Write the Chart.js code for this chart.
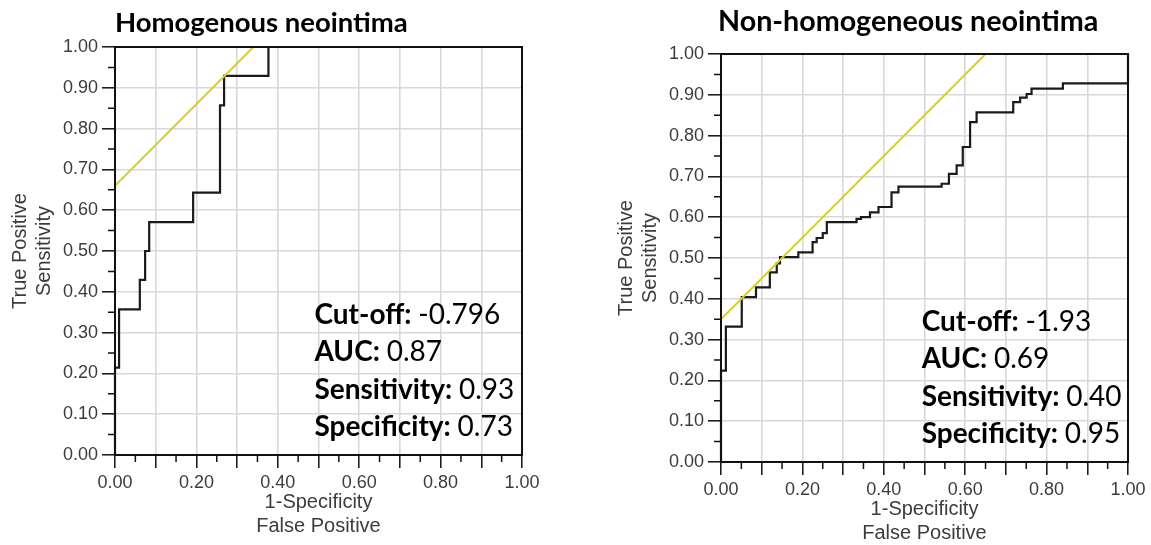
<!DOCTYPE html>
<html>
<head>
<meta charset="utf-8">
<script src="https://cdn.jsdelivr.net/npm/chart.js@4.4.1/dist/chart.umd.min.js"></script>
<style>
  html, body { margin: 0; padding: 0; background: #fff; overflow: hidden; width: 1151px; height: 545px; }
  .box { position: absolute; }
  #left { left: 0; top: 0; width: 560px; height: 545px; }
  #right { left: 606px; top: 7px; width: 545px; height: 545px; }
</style>
</head>
<body>
<div class="box" id="left"><canvas id="rocA"></canvas></div>
<div class="box" id="right"><canvas id="rocB"></canvas></div>
<script>
// axis ticks (both axes, both charts)
const majorTicks = [0, 0.1, 0.2, 0.3, 0.4, 0.5, 0.6, 0.7, 0.8, 0.9, 1.0];
const minorTicks = [0.05, 0.15, 0.25, 0.35, 0.45, 0.55, 0.65, 0.75, 0.85, 0.95];
const xLabels = ['0.00', '0.20', '0.40', '0.60', '0.80', '1.00'];
const xTitle = ['1-Specificity', 'False Positive'];
const yTitle = ['True Positive', 'Sensitivity'];

// Homogenous neointima: ROC points (1-specificity, sensitivity)
const fprA = [0, 0, 0.010, 0.061, 0.074, 0.084, 0.192, 0.258, 0.268, 0.377, 1.0];
const tprA = [0, 0.214, 0.357, 0.429, 0.500, 0.571, 0.643, 0.857, 0.929, 1.0, 1.0];
// tangent line at cut-off (slope 1)
const cutLineXA = [0, 0.34];
const cutLineYA = [0.66, 1.0];

// Non-homogeneous neointima
const fprB = [0, 0, 0.012, 0.051, 0.086, 0.120, 0.137, 0.145, 0.190, 0.225, 0.235, 0.250,
  0.260, 0.333, 0.344, 0.366, 0.387, 0.419, 0.436, 0.542, 0.560, 0.579, 0.594, 0.612,
  0.628, 0.718, 0.735, 0.751, 0.763, 0.840, 1.0];
const tprB = [0, 0.224, 0.332, 0.404, 0.428, 0.465, 0.487, 0.502, 0.514, 0.539, 0.549, 0.561,
  0.588, 0.596, 0.600, 0.612, 0.625, 0.661, 0.675, 0.682, 0.706, 0.727, 0.772, 0.833,
  0.857, 0.882, 0.893, 0.902, 0.915, 0.928, 1.0];
const cutLineXB = [0, 0.65];
const cutLineYB = [0.35, 1.0];

// stats
const statLabels = ['Cut-off:', 'AUC:', 'Sensitivity:', 'Specificity:'];
const statsA = ['-0.796', '0.87', '0.93', '0.73'];
const statsB = ['-1.93', '0.69', '0.40', '0.95'];

const TICK_FONT = { family: "'Liberation Sans', Arial, sans-serif", size: 18 };
const TEXT_FONT = "Lato, 'Open Sans', sans-serif";

const rocDecor = {
  id: 'rocDecor',
  afterDraw(chart, args, opts) {
    const { ctx, chartArea: a, scales: { x, y } } = chart;
    ctx.save();
    // minor tick marks
    ctx.strokeStyle = '#111';
    ctx.lineWidth = 1.5;
    ctx.beginPath();
    minorTicks.forEach(v => {
      const px = x.getPixelForValue(v);
      ctx.moveTo(px, a.bottom);
      ctx.lineTo(px, a.bottom + 7);
      const py = y.getPixelForValue(v);
      ctx.moveTo(a.left, py);
      ctx.lineTo(a.left - 7, py);
    });
    ctx.stroke();
    // frame
    ctx.lineWidth = 2;
    ctx.strokeStyle = '#111';
    ctx.strokeRect(a.left, a.top, a.width, a.height);
    // title
    ctx.fillStyle = '#000';
    ctx.textBaseline = 'alphabetic';
    ctx.font = 'bold ' + opts.titleSize + 'px ' + TEXT_FONT;
    ctx.fillText(opts.title, a.left + opts.titleDx, opts.titleY);
    // stats block
    const sx = x.getPixelForValue(opts.statX);
    let sy = y.getPixelForValue(opts.statY);
    ctx.textBaseline = 'middle';
    statLabels.forEach((lab, i) => {
      ctx.font = 'bold 28px ' + TEXT_FONT;
      ctx.fillText(lab, sx, sy);
      const w = ctx.measureText(lab + ' ').width;
      ctx.font = '28px ' + TEXT_FONT;
      ctx.fillText(opts.values[i], sx + w, sy);
      sy += 37.3;
    });
    ctx.restore();
  }
};

function toPoints(xs, ys) {
  return xs.map((v, i) => ({ x: v, y: ys[i] }));
}

function makeChart(id, fpr, tpr, lx, ly, decor) {
  const axis = (title, isX) => ({
    type: 'linear',
    min: 0,
    max: 1,
    afterBuildTicks: s => { s.ticks = majorTicks.map(v => ({ value: v })); },
    afterFit: s => { if (isX) s.height = 90; else s.width = 115; },
    ticks: {
      font: TICK_FONT,
      color: '#3c3c3c',
      padding: 4,
      maxRotation: 0,
      autoSkip: false,
      callback: v => {
        const t = v.toFixed(2);
        return (!isX || xLabels.includes(t)) ? t : '';
      }
    },
    grid: {
      color: '#d8d8d8',
      lineWidth: 1.6,
      tickColor: '#111',
      tickLength: 13,
      tickWidth: 1.5
    },
    border: { color: '#111', width: 2 },
    title: {
      display: true,
      text: title,
      font: { family: TICK_FONT.family, size: 20, lineHeight: 1.2 },
      color: '#3c3c3c',
      padding: isX ? { top: 0, bottom: 7 } : { top: 8, bottom: 0 }
    }
  });
  return new Chart(document.getElementById(id), {
    type: 'line',
    data: {
      datasets: [
        {
          data: toPoints(lx, ly),
          borderColor: '#d8cc3c',
          borderWidth: 2,
          pointRadius: 0,
          clip: 3
        },
        {
          data: toPoints(fpr, tpr),
          borderColor: '#1a1a1a',
          borderWidth: 2.2,
          stepped: 'before',
          pointRadius: 0,
          clip: 3
        }
      ]
    },
    options: {
      responsive: true,
      maintainAspectRatio: false,
      animation: false,
      layout: { padding: { top: 47, right: decor.padRight, left: 0, bottom: 0 } },
      plugins: {
        legend: { display: false },
        tooltip: { enabled: false },
        rocDecor: decor
      },
      scales: {
        x: axis(xTitle, true),
        y: axis(yTitle, false)
      }
    },
    plugins: [rocDecor]
  });
}

makeChart('rocA', fprA, tprA, cutLineXA, cutLineYA, {
  title: 'Homogenous neointima', titleSize: 27.5, titleDx: 0, titleY: 32,
  statX: 0.49, statY: 0.343, values: statsA, padRight: 38
});
makeChart('rocB', fprB, tprB, cutLineXB, cutLineYB, {
  title: 'Non-homogeneous neointima', titleSize: 28.7, titleDx: -3, titleY: 24,
  statX: 0.493, statY: 0.343, values: statsB, padRight: 23
});
</script>
</body>
</html>
